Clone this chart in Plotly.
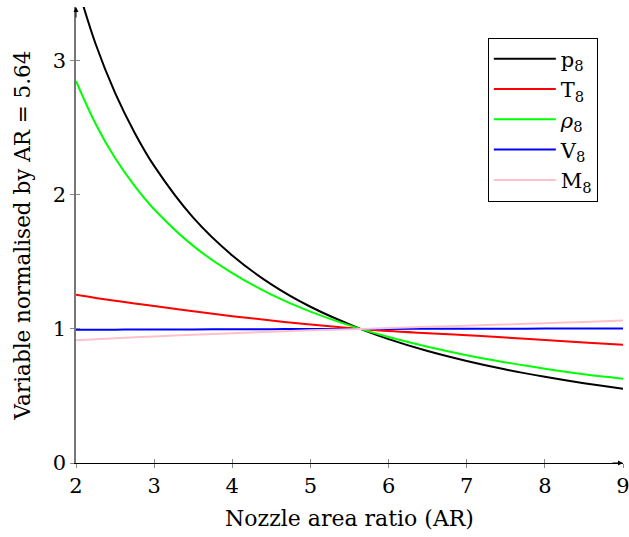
import plotly.graph_objects as go

# Nozzle area ratio samples
ar = [2.0, 2.25, 2.5, 2.75, 3.0, 3.5, 4.0, 4.5, 5.0, 5.64, 6.0, 6.5, 7.0, 7.5, 8.0, 8.5, 9.0]

# Exit quantities normalised by their value at AR = 5.64
p8 = [3.59, 3.126, 2.760, 2.463, 2.215, 1.829, 1.547, 1.332, 1.165, 1.0,
      0.924, 0.835, 0.761, 0.697, 0.643, 0.595, 0.554]
T8 = [1.254, 1.231, 1.210, 1.190, 1.170, 1.131, 1.095, 1.062, 1.033, 1.0,
      0.984, 0.968, 0.953, 0.935, 0.917, 0.899, 0.881]
rho8 = [2.849, 2.530, 2.274, 2.066, 1.892, 1.619, 1.415, 1.256, 1.129, 1.0,
        0.939, 0.867, 0.804, 0.750, 0.703, 0.661, 0.628]
V8 = [0.993, 0.994, 0.994, 0.995, 0.995, 0.996, 0.997, 0.998, 0.999, 1.0,
      1.000, 1.0005, 1.001, 1.0015, 1.002, 1.0025, 1.003]
M8 = [0.915, 0.923, 0.930, 0.937, 0.944, 0.957, 0.968, 0.979, 0.989, 1.0,
      1.006, 1.015, 1.024, 1.033, 1.042, 1.052, 1.062]

series = [
    ("p<sub>8</sub>", p8, "#000000"),
    ("T<sub>8</sub>", T8, "#ff0000"),
    ("<i>ρ</i><sub>8</sub>", rho8, "#00ff00"),
    ("V<sub>8</sub>", V8, "#0000ff"),
    ("M<sub>8</sub>", M8, "#ffc0cb"),
]

x_ticks = [2, 3, 4, 5, 6, 7, 8, 9]
y_ticks = [0, 1, 2, 3]

FONT = "DejaVu Serif"
FS = 19
TICK_FS = 21

fig = go.Figure()
for name, vals, col in series:
    fig.add_trace(go.Scatter(
        x=ar, y=vals, name=name, mode="lines", line_shape="spline",
        line=dict(color=col, width=2),
    ))

# empty trace on an overlaid subplot so inward ticks are drawn too
fig.add_trace(go.Scatter(x=[], y=[], xaxis="x2", yaxis="y2", showlegend=False))

axis_common = dict(showgrid=False, zeroline=False, tickcolor="#888888",
                   tickwidth=1, ticklen=4, automargin=False)

fig.update_layout(
    width=629, height=537,
    margin=dict(l=76, r=6, t=7, b=74),
    plot_bgcolor="white", paper_bgcolor="white",
    font=dict(family=FONT, size=FS, color="black"),
    xaxis=dict(range=[2, 9], tickvals=x_ticks, ticks="outside",
               showline=True, linecolor="black", linewidth=1,
               tickfont=dict(size=TICK_FS), ticklabeloverflow="allow",
               title=dict(text="Nozzle area ratio (AR)", standoff=13,
                          font=dict(family=FONT, size=22, color="black")),
               **axis_common),
    yaxis=dict(range=[0, 3.4], tickvals=y_ticks, ticks="outside",
               showline=True, linecolor="#777777", linewidth=1.5,
               tickfont=dict(size=TICK_FS), ticklabeloverflow="allow",
               title=dict(text="Variable normalised by AR = 5.64", standoff=16,
                          font=dict(family=FONT, size=21.5, color="black")),
               **axis_common),
    xaxis2=dict(overlaying="x", matches="x", anchor="y2", ticks="inside",
                tickvals=x_ticks, showticklabels=False, showline=False,
                **axis_common),
    yaxis2=dict(overlaying="y", matches="y", anchor="x2", ticks="inside",
                tickvals=y_ticks, showticklabels=False, showline=False,
                **axis_common),
    legend=dict(x=0.954, y=0.933, xanchor="right", yanchor="top",
                bordercolor="black", borderwidth=1, bgcolor="white",
                font=dict(family=FONT, size=21), itemwidth=62,
                tracegroupgap=0),
    showlegend=True,
)

# arrow heads at the ends of both axes
fig.add_annotation(x=1, y=0, xref="paper", yref="paper", ax=-12, ay=0,
                   showarrow=True, arrowhead=2, arrowsize=1, arrowwidth=1,
                   arrowcolor="black", text="")
fig.add_annotation(x=0, y=1, xref="paper", yref="paper", ax=0, ay=12,
                   showarrow=True, arrowhead=2, arrowsize=1, arrowwidth=1,
                   arrowcolor="black", text="")

fig.write_html("out.html")
